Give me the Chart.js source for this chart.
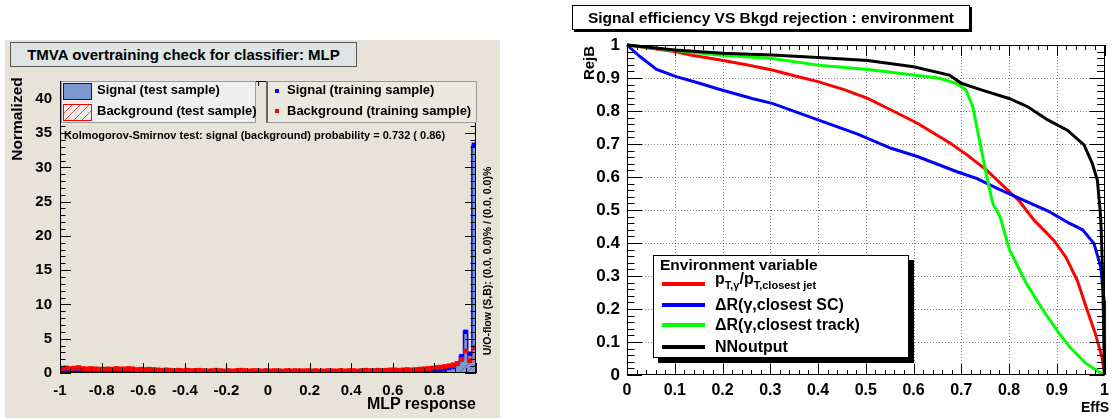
<!DOCTYPE html>
<html>
<head>
<meta charset="utf-8">
<script src="https://cdn.jsdelivr.net/npm/chart.js@4.4.1/dist/chart.umd.min.js"></script>
<style>
  body { margin:0; width:1115px; height:418px; background:#fff; position:relative; overflow:hidden;
         font-family:"Liberation Sans", Arial, sans-serif; font-weight:bold; color:#000; }
  .abs { position:absolute; white-space:nowrap; }
  .rot { transform:rotate(-90deg); text-align:center; }
  .leg1 { background:#efefef; border:1px solid #9a9a9a; }
  .leg2 { background:#ebe8df; border:1px solid #9a9a9a; border-left:2px solid #666; }
  .ltxt { font-size:13px; line-height:16px; }
  .rtxt { font-size:16px; line-height:18px; }
  .rline { height:4px; width:43px; }
  sub { font-size:11px; vertical-align:-5px; line-height:0; }
</style>
</head>
<body>
<div class="abs" style="left:5px;top:40px;width:495px;height:378px;background:#e7e3d8"></div>
<canvas id="mvaChart" class="abs" width="500" height="418" style="left:0;top:0"></canvas>
<canvas id="rocChart" class="abs" width="555" height="418" style="left:560px;top:0"></canvas>

<!-- left panel texts -->
<div class="abs" style="left:10px;top:42px;width:345px;height:23px;background:#dfe5e4;border:1px solid #555;font-size:15px;line-height:23px;text-align:center">TMVA overtraining check for classifier: MLP</div>
<div class="abs rot" style="left:-43px;top:109px;width:120px;height:20px;font-size:15.5px;line-height:20px">Normalized</div>
<div class="abs" style="left:276px;top:394px;width:200px;text-align:right;font-size:16px;line-height:20px">MLP response</div>
<div class="abs rot" style="left:367px;top:254px;width:240px;height:14px;font-size:10.5px;line-height:14px">U/O-flow (S,B): (0.0, 0.0)% / (0.0, 0.0)%</div>

<div class="abs leg1" style="left:61px;top:81px;width:193px;height:40px"></div>
<div class="abs" style="left:63px;top:83px;width:27px;height:15px;background:#7d99d1;border:1px solid #0000ee"></div>
<div class="abs" style="left:63px;top:104px;width:27px;height:15px;border:1px solid #ff0000;background:repeating-linear-gradient(135deg, transparent 0 5px, #ff4040 5px 6px)"></div>
<div class="abs ltxt" style="left:97px;top:82px">Signal (test sample)</div>
<div class="abs ltxt" style="left:97px;top:103px">Background (test sample)</div>

<div class="abs leg2" style="left:266px;top:81px;width:208px;height:40px"></div>
<div class="abs" style="left:275px;top:89px;width:4px;height:4px;background:#0000ff"></div>
<div class="abs" style="left:275px;top:109px;width:4px;height:4px;background:#ff0000"></div>
<div class="abs ltxt" style="left:287px;top:82px">Signal (training sample)</div>
<div class="abs ltxt" style="left:287px;top:103px">Background (training sample)</div>
<div class="abs" style="left:64px;top:128px;font-size:11px;line-height:14px">Kolmogorov-Smirnov test: signal (background) probability = 0.732 ( 0.86)</div>

<!-- right panel texts -->
<div class="abs" style="left:572px;top:5px;width:396px;height:23px;background:#fff;border:1px solid #000;box-shadow:2px 2px 0 #000;font-size:15.5px;line-height:23px;text-align:center">Signal efficiency VS Bkgd rejection : environment</div>
<div class="abs rot" style="left:564px;top:53px;width:50px;height:20px;font-size:15px;line-height:20px">RejB</div>
<div class="abs" style="left:1009px;top:398px;width:100px;text-align:right;font-size:14px;line-height:18px">EffS</div>

<div class="abs" style="left:653px;top:255px;width:254px;height:101px;background:#fff;border:1px solid #000;box-shadow:5px 5px 0 #000"></div>
<div class="abs" style="left:660px;top:256px;font-size:15.5px;line-height:18px">Environment variable</div>
<div class="abs rline" style="left:662px;top:282px;background:#ff0000"></div>
<div class="abs rline" style="left:662px;top:303px;background:#0000ff"></div>
<div class="abs rline" style="left:662px;top:323px;background:#00ff00"></div>
<div class="abs rline" style="left:662px;top:345px;background:#000000"></div>
<div class="abs rtxt" style="left:715px;top:270px">p<sub>T,γ</sub>/p<sub>T,closest jet</sub></div>
<div class="abs rtxt" style="left:715px;top:296px">ΔR(γ,closest SC)</div>
<div class="abs rtxt" style="left:715px;top:316px">ΔR(γ,closest track)</div>
<div class="abs rtxt" style="left:715px;top:338px">NNoutput</div>

<script>
// ---- MLP response histograms: 100 bins from -1 to 1 ----
const mlpMin = -1;
const mlpMax = 1;
const nBins = 100;

const sigTest = [
  0.30, 0.12, 0.10, 0.08, 0.10, 0.09, 0.08, 0.10, 0.09, 0.08,
  0.07, 0.08, 0.09, 0.08, 0.07, 0.08, 0.07, 0.09, 0.08, 0.07,
  0.06, 0.07, 0.08, 0.06, 0.07, 0.06, 0.07, 0.06, 0.05, 0.06,
  0.05, 0.06, 0.05, 0.06, 0.05, 0.05, 0.06, 0.05, 0.04, 0.05,
  0.05, 0.04, 0.05, 0.05, 0.04, 0.05, 0.04, 0.05, 0.04, 0.05,
  0.04, 0.05, 0.04, 0.04, 0.05, 0.04, 0.05, 0.04, 0.05, 0.05,
  0.05, 0.04, 0.05, 0.05, 0.06, 0.05, 0.05, 0.06, 0.05, 0.06,
  0.06, 0.07, 0.06, 0.07, 0.08, 0.07, 0.08, 0.08, 0.09, 0.10,
  0.10, 0.11, 0.12, 0.13, 0.15, 0.17, 0.19, 0.22, 0.25, 0.30,
  0.38, 0.45, 0.55, 0.70, 0.95, 1.30, 2.40, 6.10, 2.70, 33.2
];
const sigTrain = [
  0.28, 0.14, 0.09, 0.10, 0.08, 0.10, 0.09, 0.07, 0.10, 0.08,
  0.08, 0.07, 0.08, 0.09, 0.08, 0.07, 0.08, 0.08, 0.07, 0.08,
  0.07, 0.06, 0.07, 0.07, 0.06, 0.07, 0.06, 0.05, 0.06, 0.05,
  0.06, 0.05, 0.06, 0.05, 0.04, 0.06, 0.05, 0.05, 0.05, 0.04,
  0.04, 0.05, 0.05, 0.04, 0.05, 0.04, 0.05, 0.04, 0.05, 0.04,
  0.05, 0.04, 0.05, 0.05, 0.04, 0.05, 0.04, 0.05, 0.04, 0.05,
  0.04, 0.05, 0.06, 0.05, 0.05, 0.06, 0.05, 0.05, 0.06, 0.05,
  0.07, 0.06, 0.07, 0.06, 0.07, 0.08, 0.07, 0.09, 0.08, 0.09,
  0.11, 0.10, 0.13, 0.12, 0.16, 0.16, 0.20, 0.21, 0.27, 0.29,
  0.40, 0.47, 0.52, 0.74, 0.90, 1.35, 2.45, 6.00, 2.80, 33.3
];
const bkgTest = [
  0.65, 0.70, 0.70, 0.60, 0.75, 0.70, 0.65, 0.60, 0.55, 0.60,
  0.50, 0.55, 0.60, 0.60, 0.55, 0.65, 0.60, 0.55, 0.55, 0.50,
  0.55, 0.50, 0.45, 0.40, 0.45, 0.40, 0.35, 0.40, 0.35, 0.40,
  0.35, 0.40, 0.30, 0.35, 0.40, 0.35, 0.30, 0.35, 0.40, 0.35,
  0.30, 0.35, 0.40, 0.35, 0.30, 0.35, 0.40, 0.30, 0.35, 0.30,
  0.35, 0.30, 0.30, 0.35, 0.30, 0.28, 0.30, 0.35, 0.30, 0.30,
  0.28, 0.30, 0.30, 0.35, 0.30, 0.30, 0.28, 0.30, 0.35, 0.30,
  0.30, 0.35, 0.30, 0.35, 0.40, 0.30, 0.35, 0.40, 0.35, 0.40,
  0.40, 0.45, 0.40, 0.45, 0.50, 0.45, 0.50, 0.55, 0.60, 0.65,
  0.75, 0.80, 0.90, 1.00, 1.15, 1.30, 1.80, 3.10, 1.70, 3.60
];
const bkgTrain = [
  0.70, 0.75, 0.65, 0.70, 0.80, 0.65, 0.60, 0.65, 0.60, 0.55,
  0.55, 0.60, 0.55, 0.65, 0.60, 0.60, 0.65, 0.60, 0.50, 0.55,
  0.50, 0.55, 0.50, 0.45, 0.40, 0.45, 0.40, 0.35, 0.40, 0.35,
  0.40, 0.35, 0.35, 0.40, 0.35, 0.30, 0.35, 0.40, 0.35, 0.30,
  0.35, 0.30, 0.35, 0.40, 0.35, 0.30, 0.35, 0.35, 0.30, 0.35,
  0.30, 0.35, 0.32, 0.30, 0.35, 0.30, 0.35, 0.30, 0.32, 0.35,
  0.30, 0.35, 0.28, 0.30, 0.35, 0.32, 0.30, 0.35, 0.30, 0.35,
  0.35, 0.30, 0.35, 0.40, 0.35, 0.35, 0.40, 0.35, 0.40, 0.45,
  0.45, 0.40, 0.45, 0.50, 0.45, 0.50, 0.55, 0.60, 0.65, 0.70,
  0.80, 0.85, 0.95, 1.05, 1.20, 1.40, 2.00, 3.20, 1.80, 3.70
];

// ---- ROC curves: signal efficiency (x) vs background rejection (y) ----
const ptRatioEff = [0, 0.05, 0.10, 0.138, 0.193, 0.25, 0.304, 0.35, 0.40, 0.456, 0.504, 0.553, 0.608, 0.677, 0.712, 0.753, 0.801, 0.821, 0.852, 0.894, 0.919, 0.943, 0.964, 0.981, 0.995, 1.0];
const ptRatioRej = [1, 0.99, 0.98, 0.968, 0.955, 0.94, 0.924, 0.907, 0.889, 0.864, 0.838, 0.803, 0.763, 0.702, 0.667, 0.621, 0.555, 0.528, 0.47, 0.408, 0.357, 0.286, 0.195, 0.124, 0.052, 0];

const dRscEff = [0, 0.027, 0.062, 0.103, 0.15, 0.193, 0.262, 0.304, 0.40, 0.483, 0.553, 0.608, 0.691, 0.732, 0.774, 0.83, 0.884, 0.926, 0.954, 0.978, 0.992, 0.999, 1.0];
const dRscRej = [1, 0.965, 0.926, 0.904, 0.885, 0.866, 0.838, 0.823, 0.773, 0.730, 0.687, 0.662, 0.616, 0.596, 0.566, 0.53, 0.495, 0.46, 0.44, 0.398, 0.327, 0.225, 0];

const dRtrkEff = [0, 0.1, 0.193, 0.304, 0.40, 0.504, 0.6, 0.654, 0.689, 0.71, 0.724, 0.738, 0.752, 0.766, 0.781, 0.801, 0.836, 0.871, 0.905, 0.926, 0.961, 0.988, 1.0];
const dRtrkRej = [1, 0.983, 0.97, 0.959, 0.939, 0.926, 0.909, 0.899, 0.884, 0.864, 0.813, 0.712, 0.611, 0.52, 0.48, 0.379, 0.278, 0.197, 0.126, 0.086, 0.035, 0.01, 0];

const nnEff = [0, 0.1, 0.2, 0.304, 0.40, 0.504, 0.6, 0.675, 0.7, 0.742, 0.8, 0.839, 0.881, 0.922, 0.957, 0.974, 0.985, 0.991, 0.993, 0.996, 0.998, 1.0];
const nnRej = [1, 0.985, 0.975, 0.97, 0.962, 0.953, 0.934, 0.909, 0.884, 0.864, 0.838, 0.813, 0.773, 0.742, 0.697, 0.642, 0.59, 0.495, 0.44, 0.3, 0.15, 0];

// ---- helpers ----
const binWidth = (mlpMax - mlpMin) / nBins;
function histSteps(vals) {
  // step outline through the bin edges
  const pts = [{x: mlpMin, y: 0}];
  vals.forEach((v, i) => pts.push({x: mlpMin + i * binWidth, y: v}));
  pts.push({x: mlpMax, y: vals[vals.length - 1]});
  pts.push({x: mlpMax, y: 0});
  return pts;
}
function binPoints(vals) {
  return vals.map((v, i) => ({x: mlpMin + (i + 0.5) * binWidth, y: v}));
}
function curve(xs, ys) {
  return xs.map((x, i) => ({x: x, y: ys[i]}));
}
function makeHatch(color) {
  const c = document.createElement('canvas');
  c.width = 8; c.height = 8;
  const g = c.getContext('2d');
  g.strokeStyle = color; g.lineWidth = 1;
  g.beginPath();
  g.moveTo(0, 8); g.lineTo(8, 0);
  g.moveTo(-1, 1); g.lineTo(1, -1);
  g.moveTo(7, 9); g.lineTo(9, 7);
  g.stroke();
  return g.createPattern(c, 'repeat');
}

// ROOT-like frame with inward ticks on all four sides (and optional dotted grid)
const rootFrame = {
  id: 'rootFrame',
  beforeDatasetsDraw(chart, args, o) {
    if (!o.grid) return;
    const {ctx, chartArea: a, scales: {x, y}} = chart;
    ctx.save();
    ctx.strokeStyle = '#808080';
    ctx.lineWidth = 1;
    ctx.setLineDash([1, 2]);
    ctx.beginPath();
    for (let k = 1; k < o.xMajorN; k++) {
      const px = Math.round(x.getPixelForValue(o.xMin + k * o.xMajor)) + 0.5;
      ctx.moveTo(px, a.top); ctx.lineTo(px, a.bottom);
    }
    for (let k = 1; k < o.yMajorN; k++) {
      const py = Math.round(y.getPixelForValue(o.yMin + k * o.yMajor)) + 0.5;
      ctx.moveTo(a.left, py); ctx.lineTo(a.right, py);
    }
    ctx.stroke();
    ctx.restore();
  },
  afterDatasetsDraw(chart, args, o) {
    const {ctx, chartArea: a, scales: {x, y}} = chart;
    ctx.save();
    ctx.strokeStyle = '#000';
    ctx.lineWidth = 1;
    ctx.beginPath();
    const xTick = (v, len) => {
      const px = Math.round(x.getPixelForValue(v)) + 0.5;
      ctx.moveTo(px, a.bottom); ctx.lineTo(px, a.bottom - len);
      ctx.moveTo(px, a.top); ctx.lineTo(px, a.top + len);
    };
    const yTick = (v, len) => {
      const py = Math.round(y.getPixelForValue(v)) + 0.5;
      if (py < a.top - 1) return;
      ctx.moveTo(a.left, py); ctx.lineTo(a.left + len, py);
      ctx.moveTo(a.right, py); ctx.lineTo(a.right - len, py);
    };
    const nxMinor = Math.round((o.xMax - o.xMin) / o.xMinor);
    for (let k = 0; k <= nxMinor; k++) {
      const isMajor = k % o.xSub === 0;
      xTick(o.xMin + k * o.xMinor, isMajor ? o.xMajorLen : o.xMinorLen);
    }
    const nyMinor = Math.floor((o.yMax - o.yMin) / o.yMinor + 1e-6);
    for (let k = 0; k <= nyMinor; k++) {
      const isMajor = k % o.ySub === 0;
      yTick(o.yMin + k * o.yMinor, isMajor ? o.yMajorLen : o.yMinorLen);
    }
    ctx.stroke();
    ctx.strokeRect(Math.round(a.left) + 0.5, Math.round(a.top) + 0.5, Math.round(a.width) - 1, Math.round(a.height) - 1);
    ctx.restore();
  }
};

Chart.defaults.font.family = '"Liberation Sans", Arial, sans-serif';
Chart.defaults.font.weight = 'bold';
Chart.defaults.color = '#000';

// ---- left: overtraining check ----
new Chart(document.getElementById('mvaChart'), {
  type: 'line',
  data: {
    datasets: [
      {
        label: 'Background (training sample)',
        data: binPoints(bkgTrain),
        showLine: false,
        pointStyle: 'rect',
        pointRadius: 3.4,
        pointBackgroundColor: '#ff0000',
        pointBorderColor: '#ff0000',
        pointBorderWidth: 0,
        order: 1
      },
      {
        label: 'Signal (training sample)',
        data: binPoints(sigTrain),
        showLine: false,
        pointStyle: 'rect',
        pointRadius: 3.2,
        pointBackgroundColor: '#0000ff',
        pointBorderColor: '#0000ff',
        pointBorderWidth: 0,
        order: 2
      },
      {
        label: 'Background (test sample)',
        data: histSteps(bkgTest),
        stepped: 'before',
        fill: 'origin',
        backgroundColor: makeHatch('#ff3030'),
        borderColor: '#ff0000',
        borderWidth: 1.2,
        pointRadius: 0,
        order: 3
      },
      {
        label: 'Signal (test sample)',
        data: histSteps(sigTest),
        stepped: 'before',
        fill: 'origin',
        backgroundColor: '#7d99d1',
        borderColor: '#0000ee',
        borderWidth: 1.5,
        pointRadius: 0,
        order: 4
      }
    ]
  },
  options: {
    responsive: false,
    animation: false,
    events: [],
    layout: { padding: { left: 20, right: 24, top: 81, bottom: 0 } },
    scales: {
      x: {
        type: 'linear',
        min: -1, max: 1,
        grid: { display: false, drawTicks: false },
        border: { display: false },
        ticks: {
          stepSize: 0.2,
          padding: 9,
          maxRotation: 0,
          font: { size: 15, weight: 'bold' },
          callback: (v) => (Math.abs(v - 1) < 1e-6 ? '' : String(+v.toFixed(1)))
        },
        afterFit: (s) => { s.height = 45; }
      },
      y: {
        type: 'linear',
        min: 0, max: 42.6,
        grid: { display: false, drawTicks: false },
        border: { display: false },
        ticks: {
          stepSize: 5,
          padding: 8,
          font: { size: 15, weight: 'bold' },
          callback: (v) => (Math.abs(v % 5) < 1e-6 ? String(v) : '')
        },
        afterFit: (s) => { s.width = 40; }
      }
    },
    plugins: {
      legend: { display: false },
      tooltip: { enabled: false },
      rootFrame: {
        grid: false,
        xMin: -1, xMax: 1, xMinor: 0.05, xSub: 4, xMajorLen: 10, xMinorLen: 5,
        yMin: 0, yMax: 42.6, yMinor: 1, ySub: 5, yMajorLen: 11, yMinorLen: 5.5
      }
    }
  },
  plugins: [rootFrame]
});

// ---- right: ROC curves ----
new Chart(document.getElementById('rocChart'), {
  type: 'line',
  data: {
    datasets: [
      { label: 'NNoutput', data: curve(nnEff, nnRej), borderColor: '#000000', order: 0 },
      { label: 'ΔR(γ,closest track)', data: curve(dRtrkEff, dRtrkRej), borderColor: '#00ff00', order: 1 },
      { label: 'ΔR(γ,closest SC)', data: curve(dRscEff, dRscRej), borderColor: '#0000ff', order: 2 },
      { label: 'pT,γ/pT,closest jet', data: curve(ptRatioEff, ptRatioRej), borderColor: '#ff0000', order: 3 }
    ].map(d => Object.assign(d, { borderWidth: 3, pointRadius: 0, tension: 0, fill: false, clip: 4 }))
  },
  options: {
    responsive: false,
    animation: false,
    events: [],
    layout: { padding: { left: 20, right: 6, top: 45, bottom: 0 } },
    scales: {
      x: {
        type: 'linear',
        min: 0, max: 1,
        grid: { display: false, drawTicks: false },
        border: { display: false },
        ticks: {
          stepSize: 0.1,
          padding: 6,
          maxRotation: 0,
          font: { size: 16, weight: 'bold' },
          callback: (v) => String(+v.toFixed(1))
        },
        afterFit: (s) => { s.height = 43; }
      },
      y: {
        type: 'linear',
        min: 0, max: 1,
        grid: { display: false, drawTicks: false },
        border: { display: false },
        ticks: {
          stepSize: 0.1,
          padding: 7,
          font: { size: 17, weight: 'bold' },
          callback: (v) => String(+v.toFixed(1))
        },
        afterFit: (s) => { s.width = 47; }
      }
    },
    plugins: {
      legend: { display: false },
      tooltip: { enabled: false },
      rootFrame: {
        grid: true,
        xMin: 0, xMax: 1, xMajor: 0.1, xMajorN: 10, xMinor: 0.02, xSub: 5, xMajorLen: 11, xMinorLen: 5,
        yMin: 0, yMax: 1, yMajor: 0.1, yMajorN: 10, yMinor: 0.02, ySub: 5, yMajorLen: 15, yMinorLen: 7.5
      }
    }
  },
  plugins: [rootFrame]
});
</script>
</body>
</html>
